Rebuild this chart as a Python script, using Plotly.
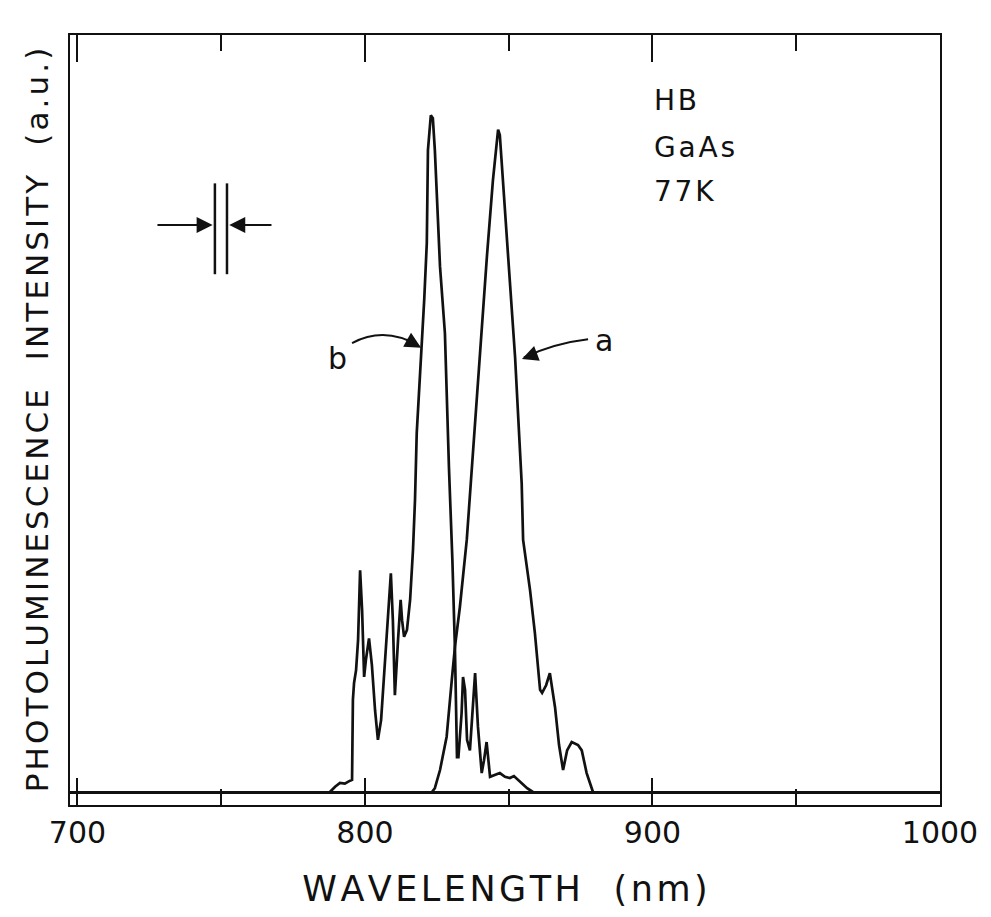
import plotly.graph_objects as go

# ---- data (wavelength nm, intensity a.u.) ----
b_wl = [787.8, 789.6, 791.3, 793.0, 794.8, 795.5, 795.8, 796.2, 796.9, 797.6, 798.3, 799.0, 799.7,
        800.3, 801.4, 802.4, 803.5, 804.5, 805.6, 807.0, 808.0, 809.0, 809.7, 810.4, 811.5, 812.4,
        812.9, 813.6, 814.6, 815.7, 816.7, 817.4, 818.0, 818.5, 819.1, 819.8, 820.6, 821.5, 821.6,
        821.9, 822.9, 823.6, 824.3, 825.3, 826.1, 827.8, 828.4, 829.2, 830.4, 831.3, 832.0, 832.5,
        833.6, 834.1, 834.8, 835.5, 836.5, 837.6, 838.3, 839.3, 840.6, 841.4, 842.3, 843.5, 845.2,
        846.9, 848.7, 850.4, 851.8, 853.2, 855.0, 856.4, 858.4]
b_int = [0.0, 0.7, 1.2, 1.1, 1.5, 1.6, 12.2, 14.4, 16.1, 20.1, 29.3, 24.0, 15.2,
         17.4, 20.3, 16.8, 10.8, 6.9, 9.5, 17.4, 24.0, 28.9, 22.7, 12.8, 20.1, 25.4,
         22.7, 20.5, 21.4, 25.4, 32.0, 38.6, 47.4, 50.9, 53.8, 58.4, 65.0, 72.5, 78.6,
         84.8, 89.4, 89.0, 84.8, 76.0, 69.4, 60.6, 51.8, 42.9, 30.6, 18.8, 4.6, 4.6,
         10.4, 15.2, 13.5, 6.9, 5.5, 12.2, 15.7, 8.6, 2.5, 4.2, 6.6, 2.0, 2.2,
         2.5, 2.0, 1.85, 2.1, 1.6, 0.9, 0.5, 0.0]

a_wl = [823.3, 824.3, 826.1, 828.4, 830.2, 831.3, 833.0, 835.4, 836.8, 838.3, 840.6, 842.4, 844.5,
        846.3, 846.9, 848.3, 849.8, 852.2, 853.3, 854.5, 855.0, 857.4, 859.1, 860.9, 861.6, 863.0,
        864.3, 866.1, 867.5, 868.9, 870.3, 871.9, 874.1, 875.4, 877.1, 878.9, 879.3]
a_int = [0.0, 0.5, 2.9, 7.3, 14.8, 19.2, 24.4, 33.3, 40.8, 48.7, 62.0, 70.7, 80.8,
         87.5, 86.8, 79.5, 70.7, 57.5, 48.7, 40.8, 33.3, 26.7, 21.0, 13.5, 13.1, 14.1,
         15.7, 11.2, 6.2, 2.9, 5.5, 6.6, 6.2, 5.5, 2.5, 0.3, 0.0]

x_tickvals = [700, 800, 900, 1000]
x_ticktext = ["700", "800", "900", "1000"]
info_lines = ["HB", "GaAs", "77K"]
x_title = "WAVELENGTH  (nm)"
y_title = "PHOTOLUMINESCENCE  INTENSITY  (a.u.)"

FONT = "DejaVu Sans"
INK = "#111111"
HS = "\u200a"  # hair space, mimics the wide letter spacing of the plotter lettering


def spaced(s):
    return HS.join(s)


fig = go.Figure()
fig.add_trace(go.Scatter(x=b_wl, y=b_int, mode="lines", line=dict(color=INK, width=2.7), showlegend=False))
fig.add_trace(go.Scatter(x=a_wl, y=a_int, mode="lines", line=dict(color=INK, width=2.7), showlegend=False))

# slit-width marker
for xv in (747.8, 752.0):
    fig.add_shape(type="line", xref="x", yref="y", x0=xv, x1=xv, y0=68.4, y1=80.4,
                  line=dict(color=INK, width=2.5))
fig.add_annotation(x=747.0, y=74.9, ax=727.3, ay=74.9, xref="x", yref="y", axref="x", ayref="y",
                   text="", showarrow=True, arrowhead=2, arrowsize=1.6, arrowwidth=2, arrowcolor=INK)
fig.add_annotation(x=752.8, y=74.9, ax=768.0, ay=74.9, xref="x", yref="y", axref="x", ayref="y",
                   text="", showarrow=True, arrowhead=2, arrowsize=1.6, arrowwidth=2, arrowcolor=INK)


# curved pointer arrows for the labels
def curve(p0, c, p1):
    return f"M {p0[0]},{p0[1]} Q {c[0]},{c[1]} {p1[0]},{p1[1]}"


fig.add_shape(type="path", xref="x", yref="y", path=curve((795.5, 59.3), (807.0, 61.6), (818.8, 58.9)),
              line=dict(color=INK, width=2))
fig.add_annotation(x=819.5, y=58.7, ax=813.9, ay=59.9, xref="x", yref="y", axref="x", ayref="y",
                   text="", showarrow=True, arrowhead=2, arrowsize=1.6, arrowwidth=2, arrowcolor=INK)
fig.add_shape(type="path", xref="x", yref="y", path=curve((877.6, 59.8), (866.1, 59.3), (855.3, 57.4)),
              line=dict(color=INK, width=2))
fig.add_annotation(x=854.6, y=57.2, ax=860.2, ay=58.0, xref="x", yref="y", axref="x", ayref="y",
                   text="", showarrow=True, arrowhead=2, arrowsize=1.6, arrowwidth=2, arrowcolor=INK)

fig.add_annotation(x=790.6, y=57.3, text="b", showarrow=False, xref="x", yref="y",
                   font=dict(family=FONT, size=30, color=INK))
fig.add_annotation(x=883.3, y=59.7, text="a", showarrow=False, xref="x", yref="y",
                   font=dict(family=FONT, size=30, color=INK))

for txt, yv in zip(info_lines, [91.4, 85.1, 79.3]):
    fig.add_annotation(x=899.8, y=yv, text=spaced(txt), showarrow=False, xref="x", yref="y",
                       xanchor="left", yanchor="middle",
                       font=dict(family=FONT, size=28, color=INK))

fig.update_layout(
    width=991, height=917,
    margin=dict(l=70, r=51, t=35, b=112),
    paper_bgcolor="white", plot_bgcolor="white",
    font=dict(family=FONT, color=INK),
    xaxis=dict(range=[697.4, 1000], tickvals=x_tickvals, ticktext=x_ticktext,
               ticks="inside", ticklen=27, tickwidth=2, tickcolor=INK,
               minor=dict(dtick=50, tick0=700, ticks="inside", ticklen=16, tickwidth=2, tickcolor=INK),
               showline=True, linecolor=INK, linewidth=2, mirror="ticks",
               showgrid=False, zeroline=False,
               tickfont=dict(family=FONT, size=30, color=INK),
               title=dict(text=spaced(x_title), font=dict(family=FONT, size=35, color=INK), standoff=27)),
    yaxis=dict(range=[-1.717, 100], showticklabels=False, ticks="",
               showline=True, linecolor=INK, linewidth=2, mirror=True,
               showgrid=False, zeroline=True, zerolinecolor=INK, zerolinewidth=2.5,
               title=dict(text=spaced(y_title), font=dict(family=FONT, size=31, color=INK), standoff=10)),
)

fig.write_html("out.html")
